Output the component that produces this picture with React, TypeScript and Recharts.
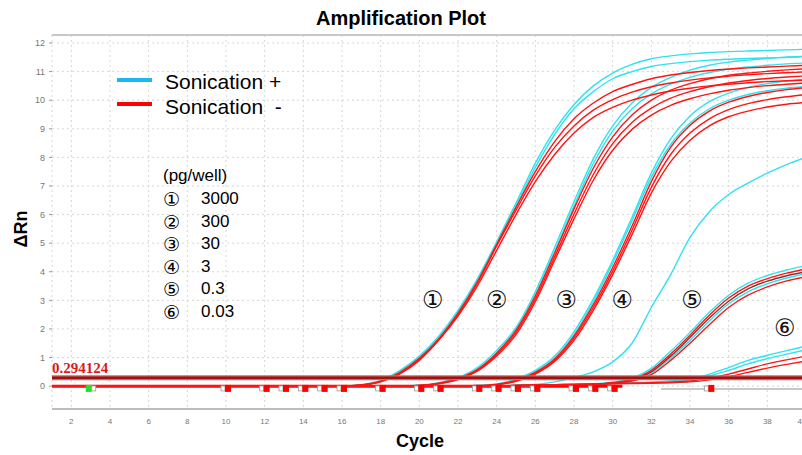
import { ComposedChart, Line, XAxis, YAxis, CartesianGrid, ReferenceLine, ReferenceDot } from "recharts";

const cycles = [1, 2, 3, 4, 5, 6, 7, 8, 9, 10, 11, 12, 13, 14, 15, 16, 17, 18, 19, 20, 21, 22, 23, 24, 25, 26, 27, 28, 29, 30, 31, 32, 33, 34, 35, 36, 37, 38, 39, 40];
const xTicks = [2, 4, 6, 8, 10, 12, 14, 16, 18, 20, 22, 24, 26, 28, 30, 32, 34, 36, 38, 40];
const yTicks = [0, 1, 2, 3, 4, 5, 6, 7, 8, 9, 10, 11, 12];
const threshold = 0.294124;

// ΔRn per cycle (1..40)
const g1CyanA = [0, 0, 0, 0, 0, 0, 0, 0, 0, 0,
  0, 0, 0, 0, 0, 0, 0.05, 0.2, 0.55, 1.05,
  1.75, 2.65, 3.75, 5.05, 6.4, 7.8, 8.95, 9.85, 10.5, 10.95,
  11.25, 11.45, 11.55, 11.62, 11.67, 11.7, 11.72, 11.74, 11.76, 11.78];
const g1CyanB = [0, 0, 0, 0, 0, 0, 0, 0, 0, 0,
  0, 0, 0, 0, 0, 0, 0.04, 0.18, 0.5, 1.0,
  1.7, 2.6, 3.7, 5.0, 6.3, 7.65, 8.8, 9.7, 10.3, 10.75,
  11.0, 11.18, 11.28, 11.35, 11.4, 11.43, 11.46, 11.48, 11.5, 11.52];
const g1RedA = [0, 0, 0, 0, 0, 0, 0, 0, 0, 0,
  0, 0, 0, 0, 0, 0, 0.04, 0.17, 0.48, 0.97,
  1.65, 2.55, 3.65, 4.95, 6.25, 7.5, 8.55, 9.35, 9.9, 10.3,
  10.55, 10.75, 10.88, 10.97, 11.04, 11.09, 11.13, 11.16, 11.19, 11.22];
const g1RedB = [0, 0, 0, 0, 0, 0, 0, 0, 0, 0,
  0, 0, 0, 0, 0, 0, 0.04, 0.16, 0.45, 0.93,
  1.62, 2.5, 3.6, 4.9, 6.15, 7.35, 8.35, 9.1, 9.65, 10.02,
  10.28, 10.47, 10.6, 10.7, 10.78, 10.84, 10.89, 10.93, 10.96, 10.99];
const g1RedC = [0, 0, 0, 0, 0, 0, 0, 0, 0, 0,
  0, 0, 0, 0, 0, 0, 0.03, 0.15, 0.43, 0.9,
  1.6, 2.45, 3.5, 4.75, 6.0, 7.15, 8.1, 8.85, 9.4, 9.75,
  10.0, 10.18, 10.32, 10.42, 10.5, 10.56, 10.61, 10.65, 10.68, 10.7];

const g2CyanA = [0, 0, 0, 0, 0, 0, 0, 0, 0, 0,
  0, 0, 0, 0, 0, 0, 0, 0, 0, 0.03,
  0.12, 0.3, 0.65, 1.25, 2.05, 3.3, 4.85, 6.45, 7.95, 9.1,
  9.9, 10.45, 10.8, 11.05, 11.22, 11.33, 11.4, 11.46, 11.5, 11.54];
const g2CyanB = [0, 0, 0, 0, 0, 0, 0, 0, 0, 0,
  0, 0, 0, 0, 0, 0, 0, 0, 0, 0.03,
  0.1, 0.28, 0.6, 1.18, 1.98, 3.2, 4.72, 6.3, 7.78, 8.92,
  9.7, 10.22, 10.56, 10.8, 10.97, 11.08, 11.16, 11.22, 11.27, 11.3];
const g2RedA = [0, 0, 0, 0, 0, 0, 0, 0, 0, 0,
  0, 0, 0, 0, 0, 0, 0, 0, 0, 0.02,
  0.1, 0.27, 0.58, 1.15, 1.95, 3.15, 4.65, 6.2, 7.62, 8.72,
  9.48, 10.0, 10.35, 10.58, 10.75, 10.87, 10.95, 11.01, 11.06, 11.1];
const g2RedB = [0, 0, 0, 0, 0, 0, 0, 0, 0, 0,
  0, 0, 0, 0, 0, 0, 0, 0, 0, 0.02,
  0.09, 0.25, 0.55, 1.1, 1.88, 3.05, 4.52, 6.02, 7.4, 8.48,
  9.22, 9.72, 10.07, 10.3, 10.47, 10.6, 10.69, 10.76, 10.81, 10.85];
const g2RedC = [0, 0, 0, 0, 0, 0, 0, 0, 0, 0,
  0, 0, 0, 0, 0, 0, 0, 0, 0, 0.02,
  0.08, 0.23, 0.52, 1.05, 1.8, 2.95, 4.4, 5.85, 7.2, 8.25,
  8.98, 9.48, 9.82, 10.05, 10.22, 10.35, 10.44, 10.51, 10.56, 10.6];

const g3CyanA = [0, 0, 0, 0, 0, 0, 0, 0, 0, 0,
  0, 0, 0, 0, 0, 0, 0, 0, 0, 0,
  0, 0, 0.02, 0.08, 0.25, 0.55, 1.05, 1.9, 3.05, 4.4,
  5.9, 7.45, 8.65, 9.45, 9.95, 10.25, 10.45, 10.58, 10.67, 10.74];
const g3CyanB = [0, 0, 0, 0, 0, 0, 0, 0, 0, 0,
  0, 0, 0, 0, 0, 0, 0, 0, 0, 0,
  0, 0, 0.02, 0.07, 0.22, 0.5, 0.98, 1.8, 2.95, 4.3,
  5.78, 7.3, 8.45, 9.2, 9.7, 10.0, 10.2, 10.33, 10.42, 10.48];
const g3RedA = [0, 0, 0, 0, 0, 0, 0, 0, 0, 0,
  0, 0, 0, 0, 0, 0, 0, 0, 0, 0,
  0, 0, 0.02, 0.06, 0.2, 0.48, 0.95, 1.75, 2.85, 4.15,
  5.6, 7.15, 8.35, 9.12, 9.62, 9.93, 10.13, 10.27, 10.37, 10.44];
const g3RedB = [0, 0, 0, 0, 0, 0, 0, 0, 0, 0,
  0, 0, 0, 0, 0, 0, 0, 0, 0, 0,
  0, 0, 0.01, 0.05, 0.18, 0.45, 0.9, 1.68, 2.75, 4.02,
  5.45, 6.95, 8.1, 8.85, 9.35, 9.67, 9.88, 10.02, 10.12, 10.2];
const g3RedC = [0, 0, 0, 0, 0, 0, 0, 0, 0, 0,
  0, 0, 0, 0, 0, 0, 0, 0, 0, 0,
  0, 0, 0.01, 0.05, 0.17, 0.42, 0.86, 1.6, 2.65, 3.9,
  5.3, 6.75, 7.85, 8.6, 9.1, 9.42, 9.62, 9.76, 9.86, 9.92];

const g4Cyan = [0, 0, 0, 0, 0, 0, 0, 0, 0, 0,
  0, 0, 0, 0, 0, 0, 0, 0, 0, 0,
  0, 0, 0, 0.01, 0.03, 0.06, 0.15, 0.3, 0.5, 0.85,
  1.5, 2.75, 3.9, 5.2, 6.1, 6.7, 7.1, 7.45, 7.75, 8.0];

const g5CyanA = [0, 0, 0, 0, 0, 0, 0, 0, 0, 0,
  0, 0, 0, 0, 0, 0, 0, 0, 0, 0,
  0, 0, 0, 0, 0.02, 0.04, 0.05, 0.06, 0.08, 0.14,
  0.28, 0.62, 1.22, 1.88, 2.58, 3.18, 3.6, 3.87, 4.06, 4.22];
const g5CyanB = [0, 0, 0, 0, 0, 0, 0, 0, 0, 0,
  0, 0, 0, 0, 0, 0, 0, 0, 0, 0,
  0, 0, 0, 0, 0.02, 0.03, 0.04, 0.06, 0.07, 0.1,
  0.2, 0.45, 0.98, 1.6, 2.28, 2.88, 3.3, 3.58, 3.78, 3.93];
const g5RedA = [0, 0, 0, 0, 0, 0, 0, 0, 0, 0,
  0, 0, 0, 0, 0, 0, 0, 0, 0, 0,
  0, 0, 0, 0, 0.02, 0.04, 0.05, 0.06, 0.07, 0.12,
  0.24, 0.55, 1.12, 1.78, 2.48, 3.08, 3.5, 3.76, 3.95, 4.1];
const g5Dark = [0, 0, 0, 0, 0, 0, 0, 0, 0, 0,
  0, 0, 0, 0, 0, 0, 0, 0, 0, 0,
  0, 0, 0, 0, 0.02, 0.04, 0.05, 0.06, 0.07, 0.11,
  0.22, 0.5, 1.05, 1.7, 2.38, 2.97, 3.4, 3.67, 3.86, 4.0];
const g5RedB = [0, 0, 0, 0, 0, 0, 0, 0, 0, 0,
  0, 0, 0, 0, 0, 0, 0, 0, 0, 0,
  0, 0, 0, 0, 0.02, 0.03, 0.04, 0.05, 0.07, 0.1,
  0.18, 0.4, 0.9, 1.5, 2.15, 2.75, 3.18, 3.47, 3.68, 3.83];

const g6CyanA = [0, 0, 0, 0, 0, 0, 0, 0, 0, 0,
  0, 0, 0, 0, 0, 0, 0, 0, 0, 0,
  0, 0, 0, 0, 0, 0.02, 0.04, 0.06, 0.08, 0.1,
  0.12, 0.14, 0.18, 0.25, 0.42, 0.65, 0.9, 1.08, 1.24, 1.4];
const g6CyanB = [0, 0, 0, 0, 0, 0, 0, 0, 0, 0,
  0, 0, 0, 0, 0, 0, 0, 0, 0, 0,
  0, 0, 0, 0, 0, 0.02, 0.04, 0.06, 0.08, 0.1,
  0.11, 0.13, 0.16, 0.22, 0.36, 0.55, 0.78, 0.96, 1.12, 1.27];
const g6RedA = [0, 0, 0, 0, 0, 0, 0, 0, 0, 0,
  0, 0, 0, 0, 0, 0, 0, 0, 0, 0,
  0, 0, 0, 0, 0, 0.02, 0.03, 0.05, 0.07, 0.09,
  0.1, 0.12, 0.14, 0.18, 0.28, 0.42, 0.6, 0.78, 0.92, 1.05];
const g6RedB = [0, 0, 0, 0, 0, 0, 0, 0, 0, 0,
  0, 0, 0, 0, 0, 0, 0, 0, 0, 0,
  0, 0, 0, 0, 0, 0.02, 0.03, 0.05, 0.06, 0.08,
  0.09, 0.1, 0.12, 0.15, 0.22, 0.33, 0.48, 0.63, 0.76, 0.88];

// well markers along the baseline
const redMarkCycles = [10, 12, 13, 14, 15, 16, 18, 20, 21, 23, 24, 25, 26, 28, 29, 30, 35];
const greenMarkCycles = [2.9];

// circled group labels inside the plot
const groupMarks = ["①", "②", "③", "④", "⑤", "⑥"];
const groupMarkCycles = [20.7, 24.0, 27.6, 30.5, 34.1, 38.9];
const groupMarkValues = [3, 3, 3, 3, 3, 2.03];
const amounts = ["3000", "300", "30", "3", "0.3", "0.03"];

const CYAN = "#2fe2ee";
const RED = "#ff1414";
const DARK = "#8c3030";

const series = [
  { key: "g1CyanA", color: CYAN, values: g1CyanA },
  { key: "g1CyanB", color: CYAN, values: g1CyanB },
  { key: "g2CyanA", color: CYAN, values: g2CyanA },
  { key: "g2CyanB", color: CYAN, values: g2CyanB },
  { key: "g3CyanA", color: CYAN, values: g3CyanA },
  { key: "g3CyanB", color: CYAN, values: g3CyanB },
  { key: "g4Cyan", color: CYAN, values: g4Cyan },
  { key: "g5CyanA", color: CYAN, values: g5CyanA },
  { key: "g5CyanB", color: CYAN, values: g5CyanB },
  { key: "g6CyanA", color: CYAN, values: g6CyanA },
  { key: "g6CyanB", color: CYAN, values: g6CyanB },
  { key: "g5Dark", color: DARK, values: g5Dark },
  { key: "g1RedA", color: RED, values: g1RedA },
  { key: "g1RedB", color: RED, values: g1RedB },
  { key: "g1RedC", color: RED, values: g1RedC },
  { key: "g2RedA", color: RED, values: g2RedA },
  { key: "g2RedB", color: RED, values: g2RedB },
  { key: "g2RedC", color: RED, values: g2RedC },
  { key: "g3RedA", color: RED, values: g3RedA },
  { key: "g3RedB", color: RED, values: g3RedB },
  { key: "g3RedC", color: RED, values: g3RedC },
  { key: "g5RedA", color: RED, values: g5RedA },
  { key: "g5RedB", color: RED, values: g5RedB },
  { key: "g6RedA", color: RED, values: g6RedA },
  { key: "g6RedB", color: RED, values: g6RedB },
];

const rows = cycles.map((cycle, i) => {
  const row: Record<string, number> = { cycle };
  for (const s of series) row[s.key] = s.values[i];
  return row;
});

const SANS = '"Liberation Sans", Arial, sans-serif';
const CIRCLE_FONT = '"DejaVu Sans", sans-serif';

const RedMark = (p: any) => (
  <g>
    <rect x={p.cx - 5} y={p.cy - 2.5} width={4} height={5} fill="#fff" stroke="#9a9a9a" strokeWidth={0.8} />
    <rect x={p.cx - 1} y={p.cy - 3.5} width={6} height={7} fill="#ff0000" />
  </g>
);

const GreenMark = (p: any) => (
  <g>
    <rect x={p.cx - 3} y={p.cy - 3.5} width={6} height={7} fill="#22e022" />
    <rect x={p.cx + 3} y={p.cy - 2.5} width={4} height={5} fill="#fff" stroke="#9a9a9a" strokeWidth={0.8} />
  </g>
);

const circled = (text: string) => (p: any) => (
  <text x={p.cx} y={p.cy} textAnchor="middle" dominantBaseline="central" fontFamily={CIRCLE_FONT} fontSize={24} fill="#111">
    {text}
  </text>
);

export default function App() {
  return (
    <div style={{ position: "absolute", left: 0, top: 0, width: 802, height: 455, overflow: "hidden", background: "#fff", fontFamily: SANS }}>
      <ComposedChart width={806} height={455} data={rows} margin={{ top: 35, right: 0, bottom: 16, left: 0 }}>
        <CartesianGrid strokeDasharray="2 3" stroke="#d6d6d6" />
        <XAxis
          dataKey="cycle"
          type="number"
          domain={[1, 40]}
          ticks={xTicks}
          height={30}
          tickLine={false}
          axisLine={{ stroke: "#bdbdbd", strokeWidth: 2 }}
          tick={{ fill: "#777", fontSize: 8 }}
          tickMargin={3}
        />
        <YAxis
          type="number"
          domain={[-0.8, 12.28]}
          ticks={yTicks}
          allowDataOverflow
          width={52}
          axisLine={false}
          tickSize={3}
          tickLine={{ stroke: "#999" }}
          tick={{ fill: "#777", fontSize: 9 }}
          tickMargin={4}
        />
        <ReferenceLine y={12.28} stroke="#c8c8c8" strokeWidth={2} />
        <ReferenceLine segment={[{ x: 1, y: 0 }, { x: 30.5, y: 0 }]} stroke="#ff0000" strokeWidth={3} />
        <ReferenceLine segment={[{ x: 32.5, y: -0.1 }, { x: 40, y: -0.1 }]} stroke="#c8c8c8" strokeWidth={2} />
        {series.map((s) => (
          <Line
            key={s.key}
            type="monotone"
            dataKey={s.key}
            stroke={s.color}
            strokeWidth={1.4}
            dot={false}
            activeDot={false}
            isAnimationActive={false}
          />
        ))}
        <ReferenceLine y={threshold} stroke="#c86a6a" strokeWidth={5} />
        <ReferenceLine y={threshold} stroke="#9e1212" strokeWidth={2.5} />
        {redMarkCycles.map((c) => (
          <ReferenceDot key={"r" + c} x={c} y={-0.08} r={0} shape={RedMark} />
        ))}
        {greenMarkCycles.map((c) => (
          <ReferenceDot key={"g" + c} x={c} y={-0.08} r={0} shape={GreenMark} />
        ))}
        {groupMarks.map((m, i) => (
          <ReferenceDot key={m} x={groupMarkCycles[i]} y={groupMarkValues[i]} r={0} shape={circled(m)} />
        ))}
      </ComposedChart>

      <div style={{ position: "absolute", left: 0, top: 6, width: 802, textAlign: "center", fontSize: 20, fontWeight: "bold", lineHeight: "24px" }}>
        Amplification Plot
      </div>
      <div style={{ position: "absolute", left: 0, top: 429, width: 840, textAlign: "center", fontSize: 18, fontWeight: "bold", lineHeight: "24px" }}>
        Cycle
      </div>
      <div style={{ position: "absolute", left: 21, top: 229, transform: "translate(-50%, -50%) rotate(-90deg)", fontSize: 18, fontWeight: "bold", lineHeight: "20px", whiteSpace: "nowrap" }}>
        ΔRn
      </div>
      <div style={{ position: "absolute", left: 52, top: 361, fontFamily: '"Liberation Serif", serif', fontWeight: "bold", fontSize: 15, color: "#e01818", lineHeight: "15px" }}>
        {threshold.toFixed(6)}
      </div>

      <div style={{ position: "absolute", left: 117, top: 78, width: 35, height: 4, background: "#1cb6f0" }} />
      <div style={{ position: "absolute", left: 165, top: 70, fontSize: 21, lineHeight: "24px", whiteSpace: "pre" }}>Sonication +</div>
      <div style={{ position: "absolute", left: 117, top: 102, width: 35, height: 4, background: "#ff0000" }} />
      <div style={{ position: "absolute", left: 165, top: 95, fontSize: 21, lineHeight: "24px", whiteSpace: "pre" }}>Sonication  -</div>

      <div style={{ position: "absolute", left: 163, top: 165, fontSize: 17, lineHeight: "22px" }}>(pg/well)</div>
      {amounts.map((a, i) => (
        <div key={a} style={{ position: "absolute", left: 163, top: 188 + i * 22.5, height: 22, lineHeight: "22px", fontSize: 17, whiteSpace: "nowrap" }}>
          <span style={{ fontFamily: CIRCLE_FONT, fontSize: 19 }}>{groupMarks[i]}</span>
          <span style={{ position: "absolute", left: 38, top: 0 }}>{a}</span>
        </div>
      ))}
    </div>
  );
}
